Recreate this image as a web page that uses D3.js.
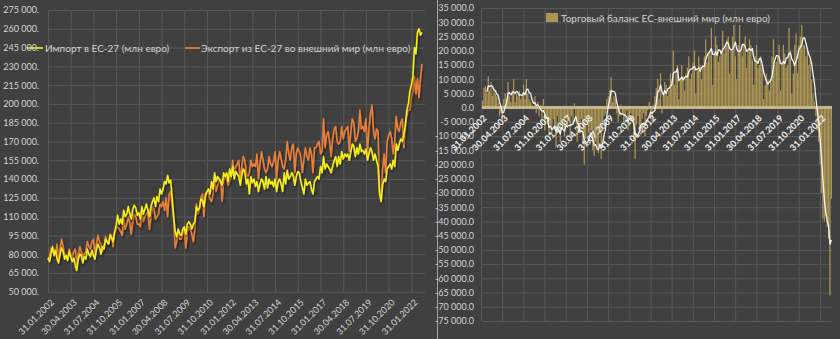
<!DOCTYPE html>
<html>
<head>
<meta charset="utf-8">
<script src="https://cdn.jsdelivr.net/npm/d3@7"></script>
<style>
  html, body { margin: 0; padding: 0; background: #404040; }
  svg { display: block; font-family: Lato, "Noto Sans", sans-serif; }
</style>
</head>
<body>
<svg id="chart" width="840" height="339"></svg>
<script>
// Month-end tick labels, one every 15 months (Jan 2002 .. Jan 2022)
const tickLabels = [
  "31.01.2002", "30.04.2003", "31.07.2004", "31.10.2005", "31.01.2007", "30.04.2008",
  "31.07.2009", "31.10.2010", "31.01.2012", "30.04.2013", "31.07.2014", "31.10.2015",
  "31.01.2017", "30.04.2018", "31.07.2019", "31.10.2020", "31.01.2022"
];

// Monthly extra-EU imports, million euro (Jan 2002 .. Aug 2022)
const imports = [
  77000, 74000, 80000, 86000, 79000, 83000, 76000, 73000, 80000, 85000, 82000, 76000,
  79000, 75000, 82000, 78000, 74000, 77000, 71000, 67000, 76000, 80000, 79000, 73000,
  78000, 76000, 84000, 80000, 78000, 83000, 79000, 76000, 84000, 88000, 85000, 80000,
  86000, 84000, 92000, 90000, 88000, 95000, 93000, 90000, 98000, 103000, 111000, 104000,
  108000, 104000, 115000, 110000, 112000, 118000, 112000, 108000, 116000, 119000, 117000, 111000,
  113000, 108000, 118000, 112000, 116000, 120000, 115000, 110000, 118000, 122000, 125000, 118000,
  126000, 122000, 132000, 128000, 132000, 138000, 136000, 143000, 137000, 139000, 125000, 110000,
  98000, 94000, 100000, 96000, 95000, 100000, 102000, 96000, 104000, 106000, 104000, 100000,
  104000, 106000, 118000, 115000, 117000, 124000, 123000, 118000, 128000, 130000, 132000, 128000,
  138000, 132000, 145000, 138000, 142000, 140000, 138000, 135000, 145000, 142000, 145000, 138000,
  148000, 142000, 150000, 140000, 146000, 144000, 142000, 135000, 143000, 148000, 146000, 136000,
  140000, 128000, 142000, 137000, 140000, 134000, 138000, 130000, 136000, 140000, 138000, 132000,
  142000, 133000, 140000, 136000, 138000, 134000, 140000, 130000, 138000, 140000, 136000, 130000,
  145000, 136000, 147000, 140000, 142000, 145000, 143000, 135000, 142000, 146000, 145000, 138000,
  133000, 128000, 140000, 135000, 137000, 138000, 132000, 128000, 138000, 140000, 142000, 140000,
  150000, 145000, 158000, 148000, 152000, 150000, 148000, 145000, 150000, 155000, 158000, 150000,
  158000, 152000, 162000, 156000, 160000, 158000, 160000, 155000, 162000, 168000, 166000, 158000,
  165000, 160000, 168000, 162000, 163000, 160000, 164000, 155000, 160000, 165000, 162000, 155000,
  160000, 155000, 150000, 128000, 122000, 135000, 140000, 138000, 148000, 150000, 152000, 148000,
  155000, 150000, 168000, 163000, 168000, 172000, 170000, 175000, 182000, 195000, 200000, 210000,
  215000, 222000, 245000, 240000, 257000, 260000, 255000, 257000
];

// Monthly extra-EU exports, million euro (Jan 2002 .. Aug 2022)
const exportsOut = [
  75000, 78000, 85000, 82000, 84000, 80000, 88000, 74000, 84000, 92000, 86000, 80000,
  78000, 76000, 84000, 80000, 78000, 82000, 84000, 72000, 80000, 86000, 82000, 78000,
  80000, 82000, 90000, 86000, 84000, 90000, 92000, 80000, 88000, 95000, 90000, 88000,
  82000, 86000, 94000, 90000, 88000, 96000, 95000, 86000, 97000, 100000, 102000, 100000,
  98000, 95000, 108000, 100000, 104000, 110000, 105000, 96000, 106000, 112000, 110000, 104000,
  104000, 102000, 115000, 106000, 110000, 112000, 114000, 100000, 110000, 118000, 116000, 108000,
  110000, 112000, 120000, 118000, 122000, 115000, 125000, 110000, 128000, 130000, 120000, 108000,
  85000, 90000, 98000, 92000, 92000, 96000, 100000, 85000, 98000, 102000, 100000, 96000,
  90000, 100000, 120000, 112000, 115000, 125000, 128000, 110000, 125000, 130000, 128000, 124000,
  122000, 128000, 140000, 130000, 135000, 138000, 140000, 122000, 138000, 142000, 140000, 135000,
  138000, 142000, 155000, 145000, 150000, 152000, 155000, 138000, 150000, 158000, 155000, 145000,
  142000, 145000, 155000, 150000, 152000, 150000, 160000, 140000, 152000, 162000, 155000, 148000,
  145000, 148000, 158000, 152000, 150000, 154000, 162000, 140000, 155000, 162000, 156000, 150000,
  148000, 155000, 170000, 160000, 155000, 165000, 168000, 145000, 160000, 165000, 162000, 158000,
  145000, 155000, 165000, 158000, 155000, 165000, 160000, 145000, 165000, 165000, 168000, 170000,
  160000, 162000, 188000, 165000, 175000, 178000, 170000, 158000, 172000, 180000, 182000, 170000,
  168000, 170000, 182000, 172000, 178000, 180000, 182000, 162000, 178000, 188000, 185000, 170000,
  172000, 178000, 195000, 180000, 182000, 178000, 188000, 160000, 180000, 192000, 199000, 178000,
  172000, 180000, 178000, 130000, 128000, 148000, 160000, 145000, 170000, 175000, 178000, 172000,
  160000, 170000, 190000, 180000, 178000, 185000, 188000, 165000, 185000, 190000, 195000, 195000,
  205000, 210000, 222000, 208000, 220000, 205000, 220000, 232000
];

// Monthly trade balance EU - rest of world, million euro (Jan 2002 .. Aug 2022)
const balance = [
  2500, 7000, 7500, 5000, 11000, 6000, 9000, 4000, 6000, 5000, 4000, 2000,
  -3000, -2000, -4400, 3000, 5000, 3000, 9000, 4000, 2000, 6000, 10000, 2000,
  5000, 4000, 6000, 3000, 4000, 8000, 3000, 10000, 5000, 3000, 2000, 1000,
  0, 4000, -2000, 2000, -3000, 1000, -5000, 3000, -8000, -4000, -6000, -10000,
  -6000, -9000, -4000, -7000, -14000, -3000, -8000, -12000, -5000, -6000, -10000, -4000,
  -7000, -4000, -10000, -3000, -6000, 1500, -5000, -12000, -8000, -9000, -4000, -13000,
  -20000, -11000, -6000, -9000, -13000, -8000, -15000, -17000, -12000, -14000, -16000, -9000,
  -18000, -8000, -3000, -2000, 3000, 4000, 6000, 10800, 2000, 4000, 3000, -2000,
  -5000, -3000, 1000, -2000, -6000, -4000, -1000, -8000, -3000, -2000, -5000, -12000,
  -18000, -6000, -3000, -7000, -9000, -4000, -2000, -10000, -3000, -1000, 2000, -4000,
  -5000, 1000, 4000, 7000, 10000, 3000, 12000, -2000, 5000, 9000, 8000, 4000,
  6000, 12000, 10000, 20000, 8000, 12000, 15000, 3000, 10000, 15000, 11000, 6000,
  12000, 14000, 18000, 10000, 12000, 16000, 20000, 5000, 13000, 18000, 15000, 10000,
  15000, 18000, 24000, 16000, 19000, 20000, 28000, 8000, 18000, 25000, 22000, 16000,
  18000, 20000, 27000, 19000, 22000, 24000, 25000, 12000, 20000, 25000, 29000, 18000,
  10000, 22000, 29000, 20000, 18000, 22000, 25000, 14000, 20000, 24000, 22000, 17000,
  8000, 18000, 22000, 14000, 15000, 18000, 14000, 3000, 8000, 12000, 10000, 6000,
  10000, 18000, 24000, 15000, 16000, 18000, 22000, 6000, 15000, 22000, 19000, 14000,
  15000, 28000, 20000, 5000, 12000, 22000, 26000, 12000, 22000, 25000, 29000, 22000,
  22000, 18000, 20000, 15000, 17000, 10000, 5000, 2000, -3000, -8000, -12000, -20000,
  -30000, -39000, -40000, -38000, -42000, -46000, -66000, -32000
];

const seriesNames = {
  imports: "Импорт в ЕС-27 (млн евро)",
  exports: "Экспорт из ЕС-27 во внешний мир (млн евро)",
  balance: "Торговый баланс ЕС-внешний мир (млн евро)"
};

const tickStep = 15;          // months between labelled categories
const maWindow = 4;           // moving-average period for the balance trend

const svg = d3.select("#chart");
const locale = d3.formatLocale({ decimal: ".", thousands: " ", grouping: [3], currency: ["", ""], minus: "-" });
const fmtInt = locale.format(",.0f");
const fmtOne = locale.format(",.1f");

const GRID = "#595959";
const TEXT = "#d4d4d4";

const defs = svg.append("defs");
const sh = defs.append("filter").attr("id", "lineShadow")
  .attr("x", "-5%").attr("y", "-5%").attr("width", "110%").attr("height", "110%");
sh.append("feDropShadow").attr("dx", 1).attr("dy", 1.5).attr("stdDeviation", 0.9)
  .attr("flood-color", "#000").attr("flood-opacity", 0.55);

// ---------- Left panel: imports and exports ----------
const L = { left: 48, right: 425, top: 10, bottom: 291.7 };
const n = imports.length;
const xL = d3.scaleLinear().domain([0, 249]).range([L.left, L.right]);
const yL = d3.scaleLinear().domain([50000, 275000]).range([L.bottom, L.top]);
const monthTicks = d3.range(0, n, tickStep);

const yAxisL = svg.append("g").attr("transform", `translate(${L.left},0)`)
  .call(d3.axisLeft(yL).tickValues(d3.range(50000, 275001, 15000))
    .tickSize(-(L.right - L.left)).tickPadding(9).tickFormat(v => fmtInt(v) + "."));
yAxisL.select(".domain").remove();
yAxisL.selectAll("line").attr("stroke", GRID);
yAxisL.selectAll("text").attr("fill", TEXT).attr("font-size", "9px").attr("font-family", "Lato, sans-serif");

const xAxisL = svg.append("g").attr("transform", `translate(0,${L.bottom})`)
  .call(d3.axisBottom(xL).tickValues(monthTicks)
    .tickSize(-(L.bottom - L.top)).tickFormat((d, i) => tickLabels[i]));
xAxisL.select(".domain").remove();
xAxisL.selectAll("line").attr("stroke", GRID);
xAxisL.selectAll("text")
  .attr("x", 0).attr("y", 0).attr("dy", "0.35em")
  .attr("transform", "translate(4,9) rotate(-45)")
  .attr("text-anchor", "end")
  .attr("fill", TEXT).attr("font-size", "9px").attr("font-family", "Lato, sans-serif");

const lineL = d3.line().x((d, i) => xL(i)).y(d => yL(d));
svg.append("path").datum(exportsOut).attr("d", lineL)
  .attr("fill", "none").attr("stroke", "#e8803a").attr("stroke-width", 1.6)
  .attr("stroke-linejoin", "round").attr("filter", "url(#lineShadow)");
svg.append("path").datum(imports).attr("d", lineL)
  .attr("fill", "none").attr("stroke", "#f4ee1a").attr("stroke-width", 1.6)
  .attr("stroke-linejoin", "round").attr("filter", "url(#lineShadow)");

// legend (left)
const legL = svg.append("g").attr("font-size", "10px").attr("fill", TEXT);
legL.append("line").attr("x1", 27).attr("x2", 43).attr("y1", 48).attr("y2", 48)
  .attr("stroke", "#f4ee1a").attr("stroke-width", 1.6);
legL.append("text").attr("x", 45).attr("y", 48).attr("dy", "0.35em").text(seriesNames.imports);
legL.append("line").attr("x1", 185).attr("x2", 200).attr("y1", 48).attr("y2", 48)
  .attr("stroke", "#e8803a").attr("stroke-width", 1.6);
legL.append("text").attr("x", 201).attr("y", 48).attr("dy", "0.35em").text(seriesNames.exports);

// separator between the two panels
svg.append("line").attr("x1", 437.5).attr("x2", 437.5).attr("y1", 0).attr("y2", 339)
  .attr("stroke", "#a6a6a6").attr("stroke-width", 1);

// ---------- Right panel: trade balance ----------
const R = { left: 482, right: 832, top: 8, bottom: 321 };
const xR = d3.scaleBand().domain(d3.range(balance.length)).range([R.left, R.right]).paddingInner(0.12);
const yR = d3.scaleLinear().domain([-75000, 35000]).range([R.bottom, R.top]);

const yAxisR = svg.append("g").attr("transform", `translate(${R.left},0)`)
  .call(d3.axisLeft(yR).tickValues(d3.range(-75000, 35001, 5000))
    .tickSize(-(R.right - R.left)).tickPadding(8).tickFormat(v => fmtOne(v)));
yAxisR.select(".domain").remove();
yAxisR.selectAll("line").attr("stroke", GRID);
yAxisR.selectAll("text").attr("fill", TEXT).attr("font-size", "9px").attr("font-family", "Lato, sans-serif");

const vGrid = svg.append("g");
vGrid.selectAll("line").data(monthTicks).join("line")
  .attr("x1", d => xR(d) - 0.5).attr("x2", d => xR(d) - 0.5)
  .attr("y1", R.top).attr("y2", R.bottom)
  .attr("stroke", GRID);

svg.append("g").selectAll("rect").data(balance).join("rect")
  .attr("x", (d, i) => xR(i))
  .attr("width", xR.bandwidth())
  .attr("y", d => yR(Math.max(0, d)))
  .attr("height", d => Math.abs(yR(d) - yR(0)))
  .attr("fill", "#ad9654");

// zero baseline
svg.append("line").attr("x1", R.left).attr("x2", R.right)
  .attr("y1", yR(0)).attr("y2", yR(0))
  .attr("stroke", "#c6b78b").attr("stroke-width", 3);

// moving-average trend of the balance
const ma = balance.map((d, i) => i < maWindow - 1 ? null : d3.mean(balance.slice(i - maWindow + 1, i + 1)));
const lineR = d3.line().defined(d => d !== null)
  .x((d, i) => xR(i) + xR.bandwidth() / 2).y(d => yR(d));
svg.append("path").datum(ma).attr("d", lineR)
  .attr("fill", "none").attr("stroke", "#f4f4f4").attr("stroke-width", 1.3)
  .attr("stroke-linejoin", "round");

// category labels sitting under the zero line
svg.append("g").selectAll("text").data(monthTicks).join("text")
  .attr("transform", d => `translate(${xR(d) + 3},${yR(0) + 9}) rotate(-45)`)
  .attr("dy", "0.35em")
  .attr("text-anchor", "end")
  .attr("fill", "#f2f2f2").attr("font-size", "9px").attr("font-weight", "bold")
  .text((d, i) => tickLabels[i]);

// legend (right)
svg.append("rect").attr("x", 546).attr("y", 13).attr("width", 12).attr("height", 9).attr("fill", "#ad9654");
svg.append("text").attr("x", 561).attr("y", 18).attr("dy", "0.35em")
  .attr("font-size", "10px").attr("fill", TEXT).text(seriesNames.balance);
</script>
</body>
</html>
